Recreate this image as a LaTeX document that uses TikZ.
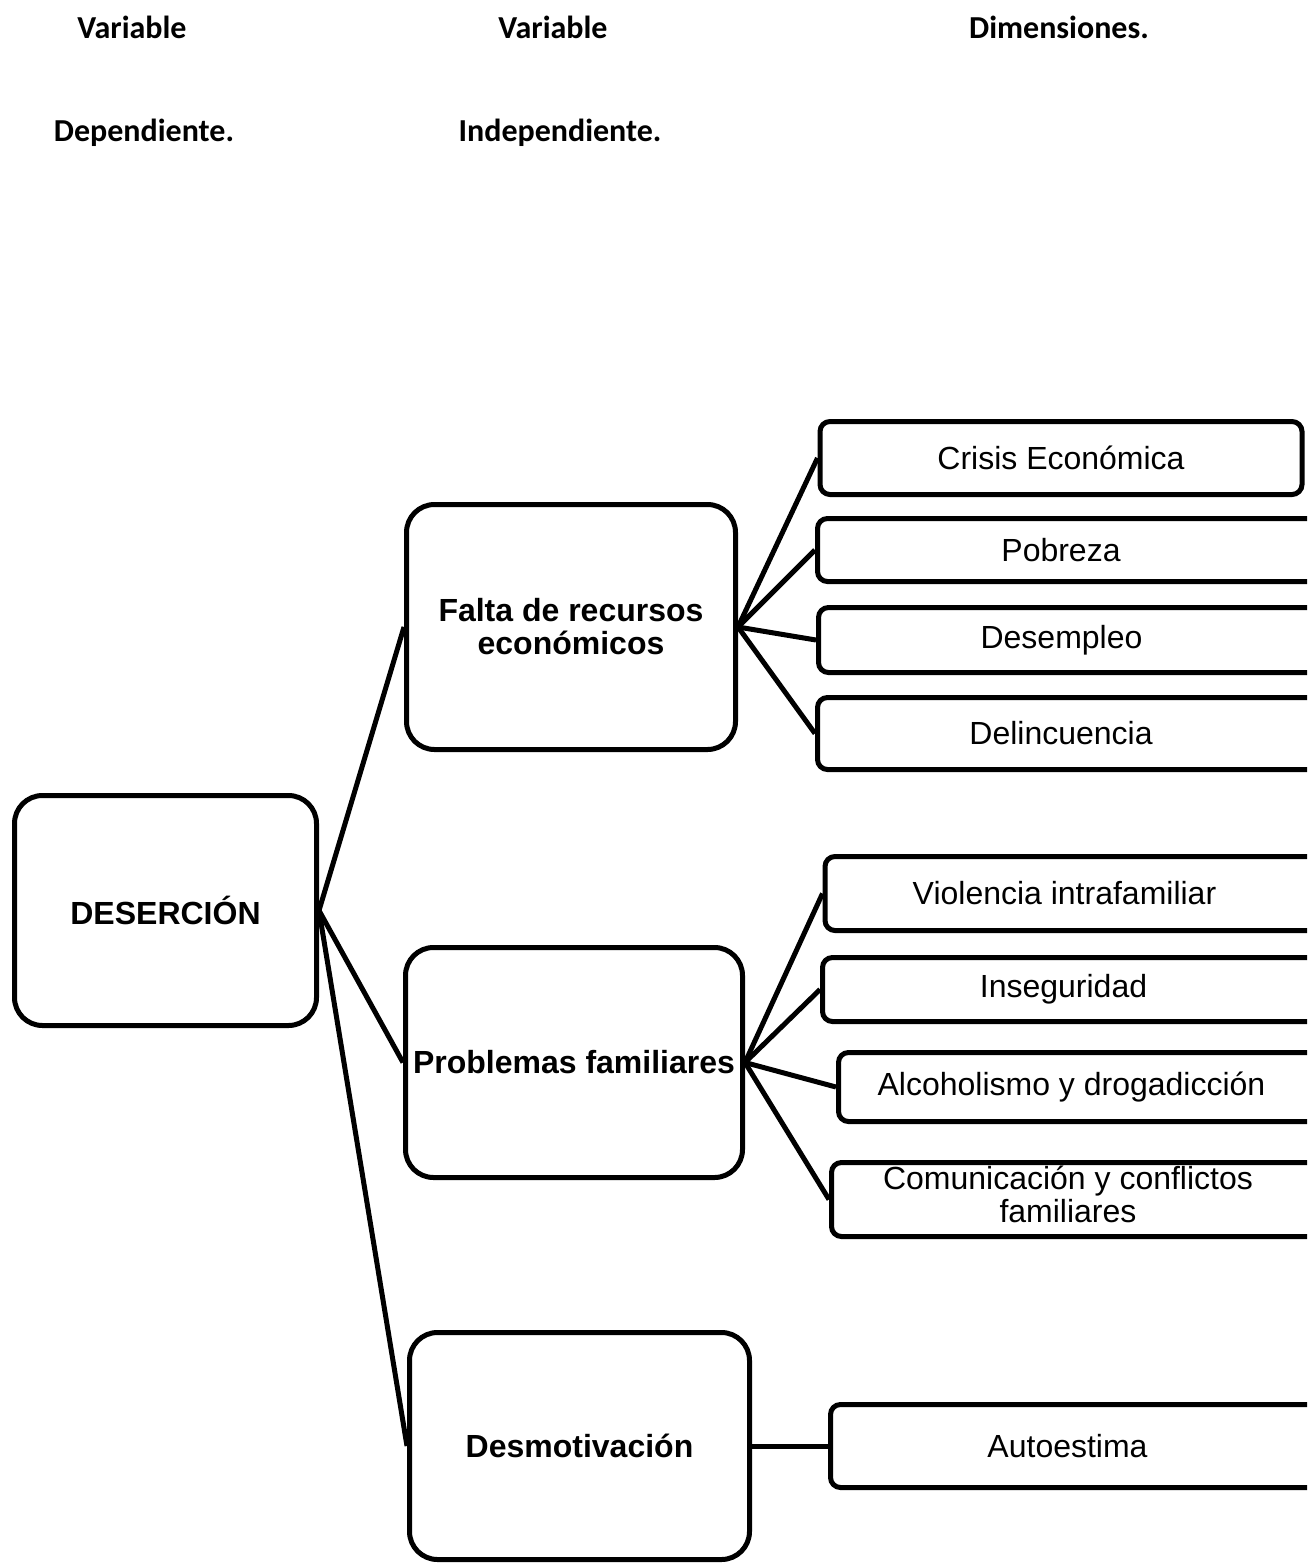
\documentclass[tikz,border=0pt]{standalone}
\usepackage{fontspec}
\setmainfont{Liberation Sans}
\newfontfamily\hdrfont{Carlito}
\begin{document}
\begin{tikzpicture}[x=1pt,y=-1pt,
  bigbox/.style={draw, line width=5pt, rounded corners=28pt, inner sep=0pt, align=center,
     font=\fontsize{32}{33}\selectfont\bfseries},
  dimbox/.style={draw, line width=5pt, rounded corners=10pt, inner sep=0pt, align=center,
     font=\fontsize{32}{33}\selectfont},
  hdr/.style={font=\hdrfont\fontsize{32}{33}\selectfont\bfseries, inner sep=0pt},
  conn/.style={line width=5pt}]
\useasboundingbox (0,0) rectangle (1307,1564);
\clip (0,0) rectangle (1307,1564);
% headers
\node[hdr] (h1) at (132,27) {Variable};
\node[hdr] (h2) at (553,27) {Variable};
\node[hdr] (h3) at (1059,27) {Dimensiones.};
\node[hdr] (h4) at (144,133) {Dependiente.};
\node[hdr] (h5) at (560,133) {Independiente.};
% main boxes
\node[bigbox, minimum width=302pt, minimum height=230pt] (des) at (165.5,910.5) {DESERCIÓN};
\node[bigbox, minimum width=329pt, minimum height=245pt] (falta) at (571,627) {Falta de recursos\\económicos};
\node[bigbox, minimum width=337pt, minimum height=230pt] (prob) at (574,1062.5) {Problemas familiares};
\node[bigbox, minimum width=340pt, minimum height=227pt] (desm) at (579.5,1446) {Desmotivación};
% dimension boxes
\node[dimbox, minimum width=482pt, minimum height=73pt] (crisis) at (1061,458) {Crisis Económica};
\node[dimbox, minimum width=510pt, minimum height=63pt] (pob) at (1072.5,550) {\makebox[487pt]{Pobreza}\hspace*{23pt}};
\node[dimbox, minimum width=510pt, minimum height=65pt] (desem) at (1073.5,640) {\makebox[486pt]{Desempleo}\hspace*{24pt}};
\node[dimbox, minimum width=510pt, minimum height=72pt] (delin) at (1072.5,733.5) {\makebox[487pt]{Delincuencia}\hspace*{23pt}};
\node[dimbox, minimum width=505pt, minimum height=74pt] (viol) at (1077.5,893.5) {\makebox[479pt]{Violencia intrafamiliar}\hspace*{26pt}};
\node[dimbox, minimum width=505pt, minimum height=64pt] (inseg) at (1075,989.5) {\makebox[482pt]{Inseguridad}\hspace*{23pt}};
\node[dimbox, minimum width=490pt, minimum height=69pt] (alco) at (1083.5,1087) {\makebox[466pt]{Alcoholismo y drogadicción}\hspace*{24pt}};
\node[dimbox, minimum width=495pt, minimum height=74pt] (comu) at (1079,1199.5) {\makebox[473pt]{\begin{tabular}{@{}c@{}}Comunicación y conflictos\\familiares\end{tabular}}\hspace*{22pt}};
\node[dimbox, minimum width=495pt, minimum height=83pt] (auto) at (1078,1446) {\makebox[474pt]{Autoestima}\hspace*{21pt}};
% connectors
\draw[conn] (des.east) -- (falta.west);
\draw[conn] (des.east) -- (prob.west);
\draw[conn] (des.east) -- (desm.west);
\draw[conn] (falta.east) -- (crisis.west);
\draw[conn] (falta.east) -- (pob.west);
\draw[conn] (falta.east) -- (desem.west);
\draw[conn] (falta.east) -- (delin.west);
\draw[conn] (prob.east) -- (viol.west);
\draw[conn] (prob.east) -- (inseg.west);
\draw[conn] (prob.east) -- (alco.west);
\draw[conn] (prob.east) -- (comu.west);
\draw[conn] (desm.east) -- (auto.west);
\end{tikzpicture}
\end{document}
